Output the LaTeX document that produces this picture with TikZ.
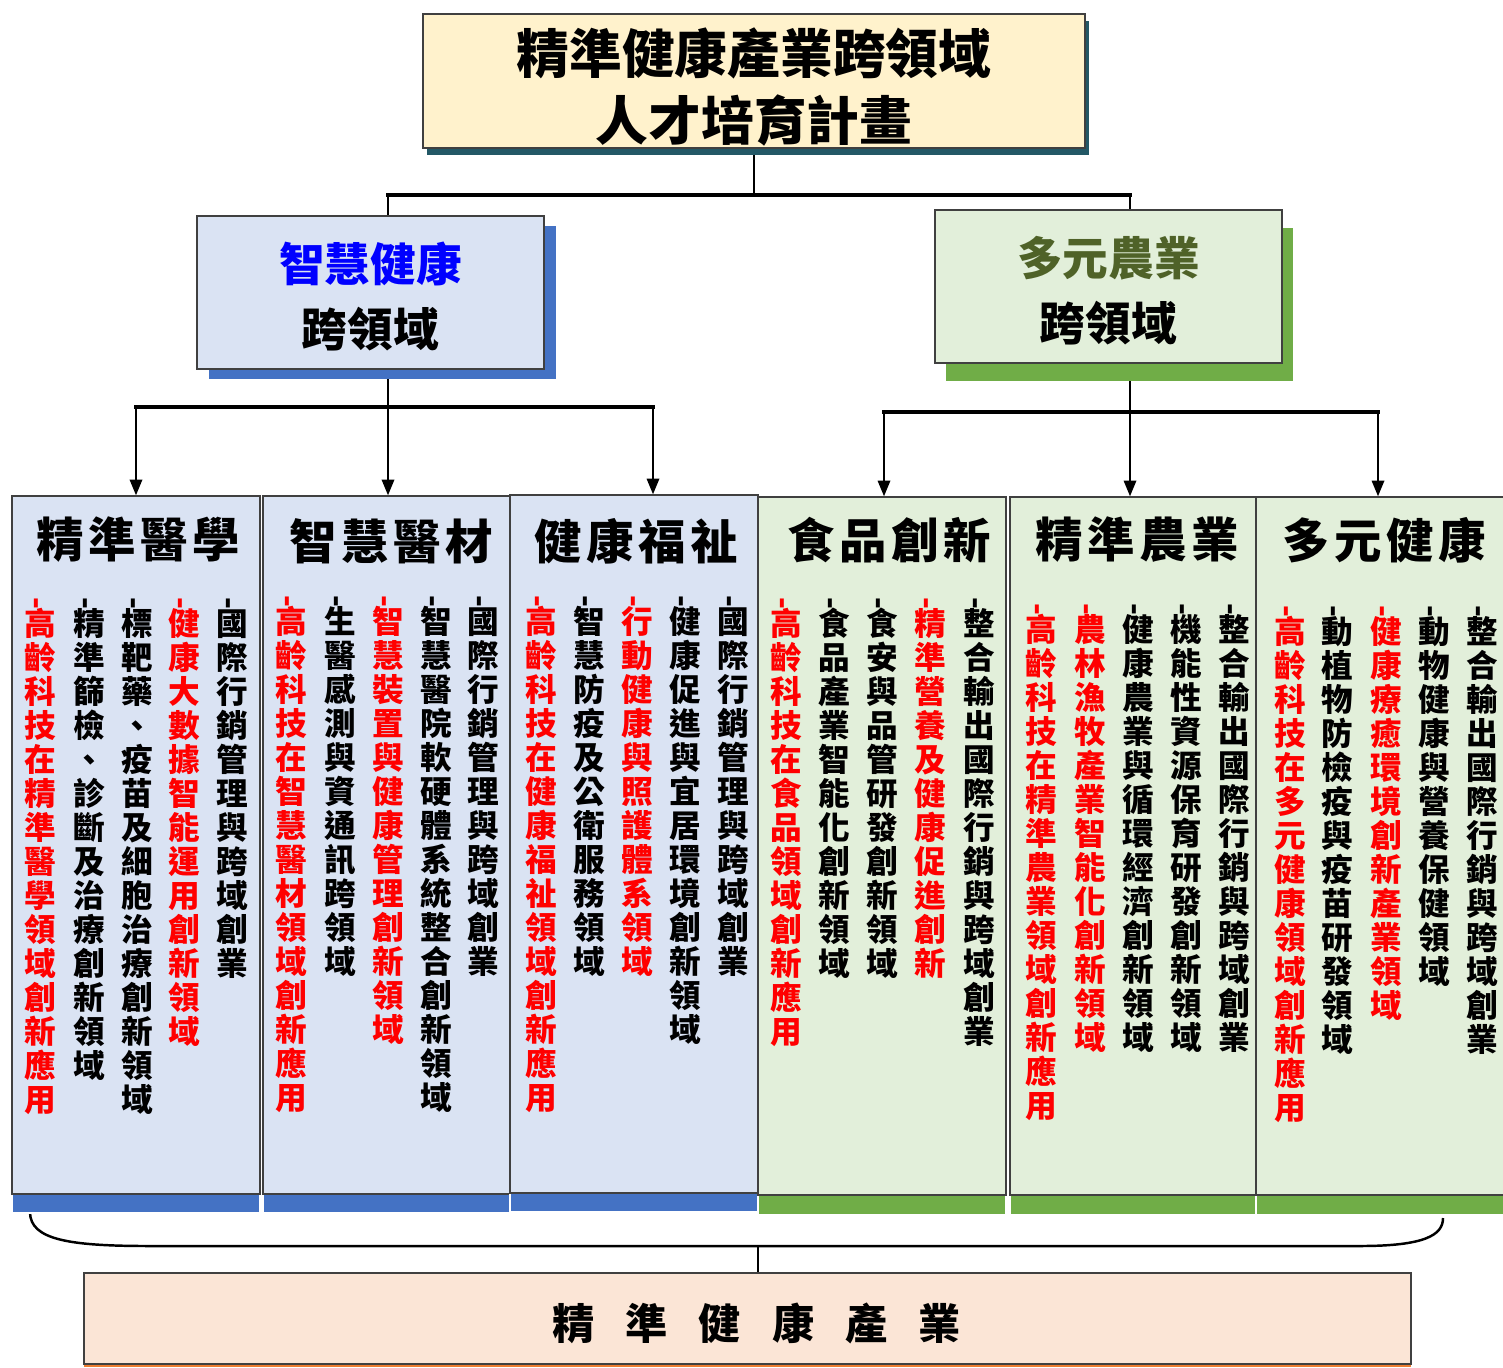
\documentclass[tikz,border=0pt]{standalone}
\usepackage{fontspec}
\usepackage{graphicx}
\newfontfamily\cjk{Noto Sans CJK TC}
\usetikzlibrary{arrows.meta, positioning, shadows, backgrounds}
\definecolor{plangold}{RGB}{255,242,204}
\definecolor{planteal}{RGB}{35,88,102}
\definecolor{hlblue}{RGB}{218,227,243}
\definecolor{hlbluedark}{RGB}{68,114,196}
\definecolor{aggreen}{RGB}{226,239,218}
\definecolor{aggreendark}{RGB}{112,173,71}
\definecolor{agtext}{RGB}{79,98,40}
\definecolor{indpeach}{RGB}{251,229,214}
\definecolor{indorange}{RGB}{237,125,49}
\definecolor{edgegray}{RGB}{64,64,64}

% characters one under another
\def\vstackfirst#1{#1\vstackrest}
\def\vstackrest#1{\ifx#1\relax\else\\#1\expandafter\vstackrest\fi}
\newcommand\vstack[1]{\expandafter\vstackfirst#1\relax}
\newcommand\vitem[1]{\rotatebox{90}{-}\\[-4.5pt]\vstack{#1}}
% characters side by side with a gap
\def\hspreadfirst#1{#1\hspreadrest}
\def\hspreadrest#1{\ifx#1\relax\else\hspace{\spreadgap}#1\expandafter\hspreadrest\fi}
\newcommand\spreadtext[2]{\def\spreadgap{#1}\expandafter\hspreadfirst#2\relax}

\tikzset{
  card/.style={draw=edgegray, line width=0.8pt, align=center, inner sep=0pt},
  topcard/.style={card, fill=plangold, minimum width=13.24cm, minimum height=2.68cm,
    font=\cjk\bfseries\fontsize{30}{38}\selectfont,
    drop shadow={shadow xshift=0.08cm, shadow yshift=-0.14cm, fill=planteal, opacity=1}},
  midcard/.style={card, minimum width=6.94cm, minimum height=3.06cm,
    font=\cjk\bfseries\fontsize{26}{37}\selectfont},
  bluecard/.style={midcard, fill=hlblue,
    drop shadow={shadow xshift=0.24cm, shadow yshift=-0.2cm, fill=hlbluedark, opacity=1}},
  greencard/.style={midcard, fill=aggreen,
    drop shadow={shadow xshift=0.22cm, shadow yshift=-0.36cm, fill=aggreendark, opacity=1}},
  colcard/.style={card, minimum width=4.96cm, minimum height=13.96cm},
  bluecol/.style={colcard, fill=hlblue,
    drop shadow={shadow xshift=0cm, shadow yshift=-0.38cm, fill=hlbluedark, draw=white, opacity=1}},
  greencol/.style={colcard, fill=aggreen,
    drop shadow={shadow xshift=0cm, shadow yshift=-0.4cm, fill=aggreendark, draw=white, opacity=1}},
  colhead/.style={font=\cjk\bfseries\fontsize{27}{30}\selectfont, inner sep=0pt},
  itemtext/.style={font=\cjk\bfseries\fontsize{18}{19.35}\selectfont, align=center,
    inner sep=0pt, anchor=north},
  link/.style={line width=1.4pt},
  bar/.style={line width=2.6pt, line cap=rect},
  arrow/.style={link, -{Triangle[width=7pt, length=9pt]}},
  endcard/.style={card, fill=indpeach, minimum width=26.54cm, minimum height=1.82cm,
    font=\cjk\bfseries\fontsize{24}{28}\selectfont,
    drop shadow={shadow xshift=0cm, shadow yshift=-0.06cm, fill=indorange, opacity=1}}
}

\begin{document}
\begin{tikzpicture}[x=0.02cm, y=-0.02cm]
  \useasboundingbox (0,0) rectangle (1503,1367);

  % Plan
  \node[topcard] (plan) at (754,81) {\rule{0pt}{33pt}精準健康產業跨領域\\人才培育計畫};

  % Two cross-field boxes
  \node[bluecard] (smart) at (370.5,292.5) {\rule{0pt}{27pt}\textcolor{blue}{智慧健康}\\跨領域};
  \node[greencard] (agri) at (1108.5,286.5) {\rule{0pt}{27pt}\textcolor{agtext}{多元農業}\\跨領域};

  % Six fields
  \node[bluecol] (med) at (136,845) {};
  \node[bluecol] (dev) at (387,845) {};
  \node[bluecol] (wel) at (634,844) {};
  \node[greencol] (food) at (882,846) {};
  \node[greencol] (farm) at (1134,846) {};
  \node[greencol] (multi) at (1380,846) {};

  \node[colhead] (medhead) at (138,540) {\spreadtext{2.6pt}{精準醫學}};
  \node[colhead] (devhead) at (391,541) {\spreadtext{2.6pt}{智慧醫材}};
  \node[colhead] (welhead) at (636,541) {\spreadtext{2.6pt}{健康福祉}};
  \node[colhead] (foodhead) at (889,540) {\spreadtext{2.6pt}{食品創新}};
  \node[colhead] (farmhead) at (1137,540) {\spreadtext{2.6pt}{精準農業}};
  \node[colhead] (multihead) at (1384,540) {\spreadtext{2.6pt}{多元健康}};

  % Items, right to left
  \foreach \x/\txt/\c [count=\i] in {232/國際行銷管理與跨域創業/black,
      184/健康大數據智能運用創新領域/red, 137/標靶藥、疫苗及細胞治療創新領域/black,
      89/精準篩檢、診斷及治療創新領域/black, 40/高齡科技在精準醫學領域創新應用/red}
    \node[itemtext, text=\c] (med\i) at (\x,597) {\vitem{\txt}};
  \foreach \x/\txt/\c [count=\i] in {483/國際行銷管理與跨域創業/black,
      436/智慧醫院軟硬體系統整合創新領域/black, 388/智慧裝置與健康管理創新領域/red,
      340/生醫感測與資通訊跨領域/black, 291/高齡科技在智慧醫材領域創新應用/red}
    \node[itemtext, text=\c] (dev\i) at (\x,595) {\vitem{\txt}};
  \foreach \x/\txt/\c [count=\i] in {733/國際行銷管理與跨域創業/black,
      685/健康促進與宜居環境創新領域/black, 637/行動健康與照護體系領域/red,
      589/智慧防疫及公衛服務領域/black, 541/高齡科技在健康福祉領域創新應用/red}
    \node[itemtext, text=\c] (wel\i) at (\x,595) {\vitem{\txt}};
  \foreach \x/\txt/\c [count=\i] in {979/整合輸出國際行銷與跨域創業/black,
      930/精準營養及健康促進創新/red, 882/食安與品管研發創新領域/black,
      834/食品產業智能化創新領域/black, 786/高齡科技在食品領域創新應用/red}
    \node[itemtext, text=\c] (food\i) at (\x,597) {\vitem{\txt}};
  \foreach \x/\txt/\c [count=\i] in {1234/整合輸出國際行銷與跨域創業/black,
      1186/機能性資源保育研發創新領域/black, 1138/健康農業與循環經濟創新領域/black,
      1090/農林漁牧產業智能化創新領域/red, 1041/高齡科技在精準農業領域創新應用/red}
    \node[itemtext, text=\c] (farm\i) at (\x,603) {\vitem{\txt}};
  \foreach \x/\txt/\c [count=\i] in {1482/整合輸出國際行銷與跨域創業/black,
      1434/動物健康與營養保健領域/black, 1386/健康療癒環境創新產業領域/red,
      1337/動植物防檢疫與疫苗研發領域/black, 1290/高齡科技在多元健康領域創新應用/red}
    \node[itemtext, text=\c] (multi\i) at (\x,605) {\vitem{\txt}};

  % Industry
  \node[endcard] (industry) at (747.5,1318.5)
    {\hspace*{0.36cm}\rule{0pt}{27pt}\spreadtext{0.62cm}{精準健康產業}};

  % Connectors
  \coordinate (tl) at (388,195);
  \coordinate (tr) at (1130,195);
  \coordinate (bl1) at (136,407);
  \coordinate (bl2) at (388,407);
  \coordinate (bl3) at (653,407);
  \coordinate (br1) at (884,412);
  \coordinate (br2) at (1130,412);
  \coordinate (br3) at (1378,412);
  \coordinate (bm) at (758,1246);
  \begin{scope}[on background layer]
    \draw[link] (plan.south) -- (plan.south |- tl);
    \draw[bar] (tl) -- (tr);
    \draw[link] (tl) -- (tl |- smart.north);
    \draw[link] (tr) -- (tr |- agri.north);

    \draw[link] (bl2 |- smart.south) -- (bl2);
    \draw[bar] (bl1) -- (bl3);
    \draw[arrow] (bl1) -- (bl1 |- med.north);
    \draw[arrow] (bl2) -- (bl2 |- dev.north);
    \draw[arrow] (bl3) -- (bl3 |- wel.north);

    \draw[link] (br2 |- agri.south) -- (br2);
    \draw[bar] (br1) -- (br3);
    \draw[arrow] (br1) -- (br1 |- food.north);
    \draw[arrow] (br2) -- (br2 |- farm.north);
    \draw[arrow] (br3) -- (br3 |- multi.north);

    % Brace over all fields
    \draw[link] (30,1212) .. controls (30,1240) and (70,1246) .. (150,1246)
      -- (1360,1246) .. controls (1425,1246) and (1443,1235) .. (1443,1218);
    \draw[link] (bm) -- (bm |- industry.north);
  \end{scope}
\end{tikzpicture}
\end{document}
